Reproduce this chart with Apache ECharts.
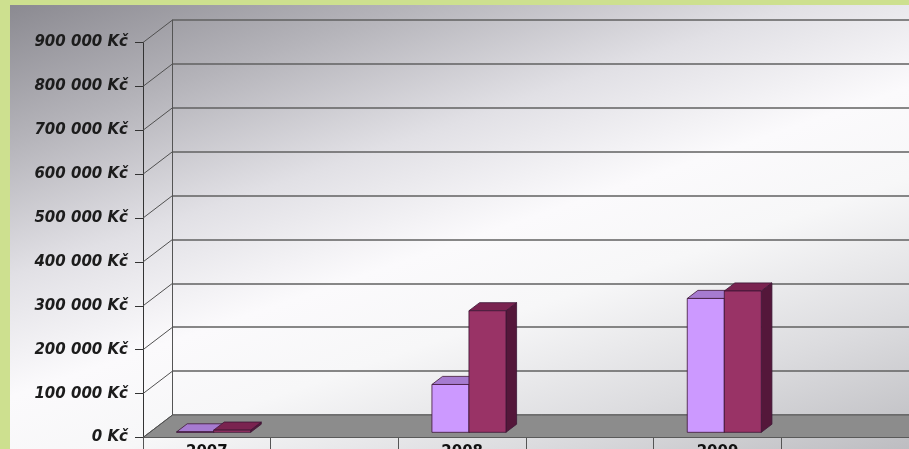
<!DOCTYPE html>
<html><head><meta charset="utf-8">
<script src="https://cdn.jsdelivr.net/npm/echarts@6/dist/echarts.min.js"></script>
<style>
html,body{margin:0;padding:0;width:909px;height:449px;overflow:hidden;background:#cde08f;}
#c{position:absolute;left:10px;top:5px;width:899px;height:444px;
background:linear-gradient(161deg,#8b8a91 0%,#b4b3b9 18%,#e1e0e5 36%,#fbfafc 52%,#f7f7f8 64%,#dcdcdf 82%,#bdbdc1 100%);}
</style></head><body><div id="c"></div>
<script>
const categories = ['2007', '', '2008', '', '2009', ''];
const seriesNames = ['Řada 1', 'Řada 2'];
const lightValues = [1000, null, 109000, null, 305000, null];
const darkValues = [5000, null, 277000, null, 322000, null];
const yTicks = [0, 100000, 200000, 300000, 400000, 500000, 600000, 700000, 800000, 900000];

const DX = -29.5, DY = 22.5;
const F_FRONT = 0.77, F_BACK = 0.41;
const BAR_FRAC = 0.29;
const FONT = 'DejaVu Sans';

function fmt(v) {
  return String(v).replace(/\B(?=(\d{3})+(?!\d))/g, ' ') + ' Kč';
}

function leftEdge(api) {
  const c0 = api.coord([0, 0]);
  const band = api.size([1, 0])[0];
  return { xl: c0[0] - band / 2, band: band, y0: c0[1] };
}

function barSeries(name, values, idx, colors) {
  return {
    name: name, type: 'custom', xAxisIndex: 0, yAxisIndex: 0,
    data: values.map((v, i) => v == null ? null : [i, v]).filter(d => d),
    renderItem: function (params, api) {
      const cat = api.value(0), v = api.value(1);
      const top = api.coord([cat, v]), base = api.coord([cat, 0]);
      const band = api.size([1, 0])[0];
      const w = band * BAR_FRAC;
      const x0 = top[0] + (idx === 0 ? -w : 0);
      const fx = F_FRONT * DX, fy = F_FRONT * DY, bx = F_BACK * DX, by = F_BACK * DY;
      const fl = x0 + fx, fr = x0 + w + fx, ft = top[1] + fy, fb = base[1] + fy;
      const bl = x0 + bx, br = x0 + w + bx, bt = top[1] + by, bb = base[1] + by;
      const stroke = { stroke: '#3c1535', lineWidth: 0.8 };
      return {
        type: 'group',
        children: [
          { type: 'polygon', shape: { points: [[fr, ft], [br, bt], [br, bb], [fr, fb]] }, style: Object.assign({ fill: colors[2] }, stroke) },
          { type: 'polygon', shape: { points: [[fl, ft], [fr, ft], [br, bt], [bl, bt]] }, style: Object.assign({ fill: colors[1] }, stroke) },
          { type: 'rect', shape: { x: fl, y: ft, width: w, height: fb - ft }, style: Object.assign({ fill: colors[0] }, stroke) }
        ]
      };
    }
  };
}

const chart = echarts.init(document.getElementById('c'));
chart.setOption({
  animation: false,
  grid: [
    { left: 162.5, top: 15, width: 766, height: 395, outerBoundsMode: 'none', containLabel: false },
    { left: 133, top: 37.5, width: 766, height: 395, outerBoundsMode: 'none', containLabel: false }
  ],
  xAxis: [
    { gridIndex: 0, type: 'category', data: categories, show: false },
    { gridIndex: 1, type: 'category', data: categories,
      axisLine: { lineStyle: { color: '#3a3a3a', width: 1 } },
      axisTick: { show: true, interval: 0, length: 16, lineStyle: { color: '#555' } },
      axisLabel: { interval: 0, margin: 7.5, fontFamily: FONT, fontWeight: 'bold', fontSize: 15, color: '#111' } }
  ],
  yAxis: [
    { gridIndex: 0, type: 'value', min: 0, max: 900000, interval: 100000,
      axisLabel: { show: false }, axisTick: { show: false },
      axisLine: { show: true, lineStyle: { color: '#555' } },
      splitLine: { show: true, lineStyle: { color: '#606060', width: 1.6 } } },
    { gridIndex: 1, type: 'value', min: 0, max: 900000, interval: 100000,
      axisLine: { show: true, lineStyle: { color: '#333' } },
      axisTick: { show: true, length: 8, lineStyle: { color: '#333' } },
      splitLine: { show: false },
      axisLabel: { margin: 15, formatter: fmt, fontFamily: FONT, fontStyle: 'italic', fontWeight: 'bold', fontSize: 15, color: '#1c1c1c' } }
  ],
  series: [
    { type: 'custom', xAxisIndex: 0, yAxisIndex: 0, silent: true, data: [[0, 0]],
      renderItem: function (params, api) {
        const e = leftEdge(api);
        const xr = e.xl + e.band * categories.length;
        return { type: 'polygon', shape: { points: [[e.xl, e.y0], [xr, e.y0], [xr + DX, e.y0 + DY], [e.xl + DX, e.y0 + DY]] },
          style: { fill: '#8c8c8c', stroke: '#5a5a5a', lineWidth: 1 } };
      } },
    { type: 'custom', xAxisIndex: 0, yAxisIndex: 0, silent: true, data: yTicks.map(v => [0, v]),
      renderItem: function (params, api) {
        const e = leftEdge(api);
        const y = api.coord([0, api.value(1)])[1];
        return { type: 'line', shape: { x1: e.xl, y1: y, x2: e.xl + DX, y2: y + DY }, style: { stroke: '#505050', lineWidth: 1 } };
      } },
    barSeries(seriesNames[0], lightValues, 0, ['#cc99ff', '#a67bd0', '#8a5cb5']),
    barSeries(seriesNames[1], darkValues, 1, ['#993366', '#7a2350', '#54173a'])
  ]
});
</script></body></html>
